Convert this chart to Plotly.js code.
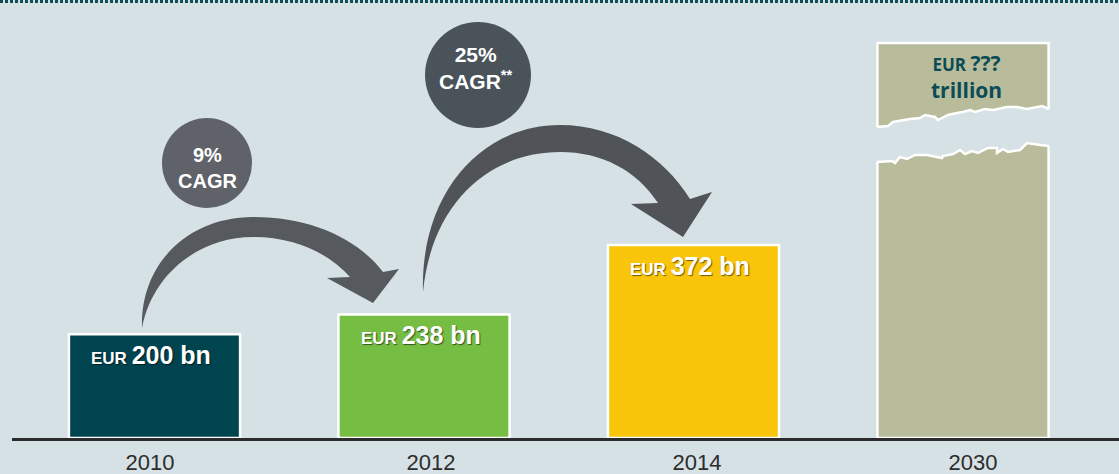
<!DOCTYPE html>
<html><head><meta charset="utf-8">
<script src="https://cdn.plot.ly/plotly-3.0.1.min.js"></script>
<style>html,body{margin:0;padding:0;background:#d5e1e5;} #chart{width:1119px;height:474px;}</style>
</head><body><div id="chart"></div>
<script>
// ---- data ----
const years = ['2010', '2012', '2014', '2030'];
const valuesBn = [200, 238, 372, null];          // EUR bn; 2030 unknown
const drawnHeight2030 = 761;                     // truncated bar height drawn for the unknown 2030 value
const valueLabels = ['200 bn', '238 bn', '372 bn'];
const label2030 = ['???', 'trillion'];
const cagrLabels = ['9%', '25%'];

// ---- geometry helpers (decoration placement only) ----
const W = 1119, H = 474, mL = 12, mR = 0, mT = 0, mB = 36;
const pw = W - mL - mR, ph = H - mT - mB;
const xr = [(mL - 154.5) / 269.5, (W - mR - 154.5) / 269.5];
const yr = [0, ph / 0.519];
const X = p => xr[0] + (p - mL) / pw * (xr[1] - xr[0]);
const Y = p => yr[0] + (H - mB - p) / ph * (yr[1] - yr[0]);
function path(cmds, close) {
  let s = '';
  cmds.forEach(c => {
    s += c[0];
    for (let i = 1; i < c.length; i += 2) s += ' ' + X(c[i]).toFixed(5) + ',' + Y(c[i + 1]).toFixed(3) + ' ';
  });
  return s + (close ? 'Z' : '');
}
function poly(pts, close) {
  return path(pts.map((p, i) => [i === 0 ? 'M' : 'L', p[0], p[1]]), close);
}

const BG = '#d5e1e5';
const yVals = valuesBn.map(v => v === null ? drawnHeight2030 : v);

const bars = {
  type: 'bar', x: [0, 1, 2, 3], y: yVals, width: 0.635,
  marker: { color: ['#00444f', '#76bd43', '#f8c50b', '#b8bc9a'], line: { color: '#ffffff', width: 2.5 } },
  hoverinfo: 'skip'
};

// torn edges of the 2030 bar
const tornTop = [[877,127],[888,126],[893,122],[910,119],[920,118],[925,115],[935,117],[938,120],[948,115],[957,113],[963,112],[970,110],[975,112],[985,109],[993,110],[1007,107],[1017,107],[1027,109],[1042,106],[1049,109]];
const tornBot = [[877,162],[892,161],[895,163],[900,157],[907,159],[915,155],[927,155],[942,158],[943,156],[953,154],[960,150],[965,154],[972,151],[978,153],[988,148],[997,148],[997,153],[1003,149],[1008,152],[1020,150],[1027,143],[1040,145],[1049,146]];
const gapPts = [[873,127]].concat(tornTop, [[1053,109],[1053,146]], tornBot.slice().reverse(), [[873,162]]);

const arrow1 = path([
  ['M', 142, 328],
  ['C', 140, 262, 190, 217, 253, 217],
  ['C', 310, 217, 357, 238, 383, 272],
  ['L', 399, 269], ['L', 373, 303], ['L', 327, 278], ['L', 350, 277],
  ['C', 328, 252, 293, 237, 253, 237],
  ['C', 198, 237, 152, 275, 142, 328]
], true);
const arrow2 = path([
  ['M', 423, 292],
  ['C', 420, 195, 480, 125, 560, 125],
  ['C', 617, 125, 664, 157, 690, 199],
  ['L', 712, 192], ['L', 683, 237], ['L', 631, 204], ['L', 658, 203],
  ['C', 636, 170, 602, 152, 560, 152],
  ['C', 492, 152, 432, 200, 423, 292]
], true);

function circle(cx, cy, r, col) {
  return { type: 'circle', xref: 'x', yref: 'y', x0: X(cx - r), x1: X(cx + r), y0: Y(cy + r), y1: Y(cy - r),
    fillcolor: col, line: { width: 0 }, layer: 'above' };
}

const shapes = [
  { type: 'line', xref: 'paper', yref: 'paper', x0: -mL / pw, x1: 1, y0: (ph - 1.5) / ph, y1: (ph - 1.5) / ph,
    line: { color: '#0f4f58', width: 3, dash: '3px,2px' } },
  { type: 'path', path: poly(gapPts, true), fillcolor: BG, line: { width: 0 }, layer: 'above' },
  { type: 'path', path: poly(tornTop, false), fillcolor: 'rgba(0,0,0,0)', line: { color: '#ffffff', width: 2.5 }, layer: 'above' },
  { type: 'path', path: poly(tornBot, false), fillcolor: 'rgba(0,0,0,0)', line: { color: '#ffffff', width: 2.5 }, layer: 'above' },
  { type: 'path', path: arrow1, fillcolor: '#56595d', line: { width: 0 }, layer: 'above' },
  { type: 'path', path: arrow2, fillcolor: '#505357', line: { width: 0 }, layer: 'above' },
  circle(207, 163, 45, '#5f6269'),
  circle(478, 75, 53, '#4b535a')
];

const labelFont = { family: 'Liberation Sans, Arial, sans-serif', size: 25, color: '#ffffff', weight: 'bold',
  shadow: '1px 1px 1px rgba(0,0,0,0.55)' };
const annotations = [];
valueLabels.forEach((t, i) => {
  annotations.push({ x: i, y: valuesBn[i], xref: 'x', yref: 'y', xanchor: 'center', yanchor: 'top',
    xshift: -3.5, yshift: -5, showarrow: false,
    text: "<span style='font-size:17px'>EUR </span>" + t, font: labelFont });
});
const circFont = { family: 'Liberation Sans, Arial, sans-serif', size: 20, color: '#ffffff', weight: 'bold' };
annotations.push({ x: X(207), y: Y(168), xanchor: 'center', yanchor: 'middle', showarrow: false,
  text: cagrLabels[0] + '<br>CAGR', font: circFont });
annotations.push({ x: X(476), y: Y(68), xanchor: 'center', yanchor: 'middle', showarrow: false,
  text: cagrLabels[1] + '<br>CAGR<sup>**</sup>', font: Object.assign({}, circFont, { size: 21 }) });
const f2030 = { family: 'Open Sans, Noto Sans, sans-serif', size: 21, color: '#0b4c56', weight: 'bold' };
annotations.push({ x: X(966), y: Y(76), xanchor: 'center', yanchor: 'middle', showarrow: false,
  text: "<span style='font-size:17px'>EUR </span>" + label2030[0] + '<br>' + label2030[1], font: f2030 });

const layout = {
  width: W, height: H, margin: { l: mL, r: mR, t: mT, b: mB, pad: 0 },
  paper_bgcolor: BG, plot_bgcolor: BG, showlegend: false,
  xaxis: { range: xr, tickmode: 'array', tickvals: [X(150), X(431), X(697), X(973)], ticktext: years,
    showgrid: false, zeroline: false, showline: true, linecolor: '#2b2b2b', linewidth: 3,
    ticks: '', ticklabelstandoff: 3, fixedrange: true,
    tickfont: { family: 'Liberation Sans, Arial, sans-serif', size: 22, color: '#2d2d2d' } },
  yaxis: { range: yr, visible: false, fixedrange: true },
  shapes: shapes, annotations: annotations, hovermode: false
};
Plotly.newPlot('chart', [bars], layout, { displayModeBar: false, staticPlot: true });
</script>
</body></html>
